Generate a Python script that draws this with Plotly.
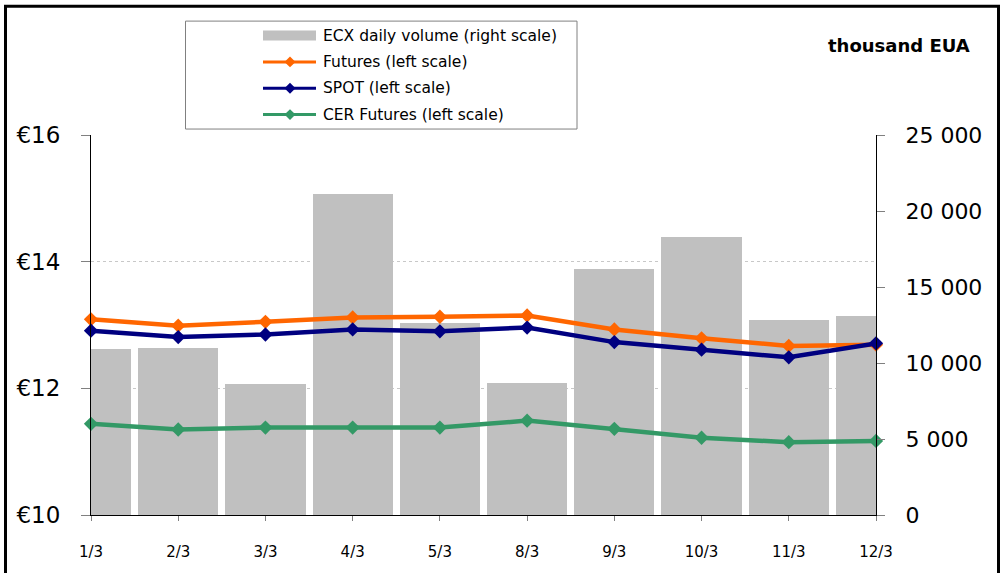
import plotly.graph_objects as go

# ---- data -------------------------------------------------------------
dates = ["1/3", "2/3", "3/3", "4/3", "5/3", "8/3", "9/3", "10/3", "11/3", "12/3"]
ecx_volume = [10900, 11000, 8600, 21100, 12600, 8700, 16200, 18300, 12800, 13100]
futures = [13.09, 12.99, 13.05, 13.12, 13.13, 13.15, 12.93, 12.79, 12.67, 12.69]
spot = [12.91, 12.81, 12.85, 12.93, 12.90, 12.96, 12.73, 12.61, 12.49, 12.71]
cer_futures = [11.44, 11.35, 11.38, 11.38, 11.38, 11.49, 11.36, 11.22, 11.15, 11.17]

names = ["ECX daily volume (right scale)", "Futures (left scale)",
         "SPOT (left scale)", "CER Futures (left scale)"]
unit_label = "thousand EUA"

# ---- styling ----------------------------------------------------------
W, H = 1002, 573
ML, MR, MT, MB = 91, 126, 135, 56
PW, PH = W - ML - MR, H - MT - MB
FONT = "DejaVu Sans"
BAR_COLOR = "#C0C0C0"
LINE_COLORS = ["#FF6600", "#000080", "#339966"]


def px_x(p):
    return (p - ML) / PW


def px_y(p):
    return (H - MB - p) / PH


fig = go.Figure()

# volume bars on the right-hand axis (base subplot, drawn underneath)
fig.add_trace(go.Bar(
    x=dates, y=ecx_volume, name=names[0], marker_color=BAR_COLOR,
    marker_line_width=0, width=0.92, yaxis="y", showlegend=False,
))

# price lines on the left-hand axis (overlay subplot, drawn on top)
for series, name, color in zip([futures, spot, cer_futures], names[1:], LINE_COLORS):
    fig.add_trace(go.Scatter(
        x=dates, y=series, name=name, yaxis="y2", mode="lines+markers",
        line=dict(color=color, width=4.5),
        marker=dict(symbol="diamond", size=11, color=color),
        cliponaxis=False, showlegend=False,
    ))

shapes = []
annotations = []

# outer frame
shapes.append(dict(type="rect", xref="paper", yref="paper",
                   x0=px_x(5.5), x1=px_x(998.5), y0=px_y(585), y1=px_y(5.5),
                   line=dict(color="black", width=3), layer="below"))

# legend box
shapes.append(dict(type="rect", xref="paper", yref="paper",
                   x0=px_x(185.5), x1=px_x(577), y0=px_y(129), y1=px_y(20.5),
                   line=dict(color="#808080", width=1), fillcolor="white",
                   layer="above"))
row_y = [35, 61.5, 88, 114.5]
sx0, sx1, smid = 263, 316, 290
shapes.append(dict(type="rect", xref="paper", yref="paper",
                   x0=px_x(sx0), x1=px_x(sx1), y0=px_y(row_y[0] + 5),
                   y1=px_y(row_y[0] - 5), fillcolor=BAR_COLOR,
                   line=dict(width=0), layer="above"))
for ry, color in zip(row_y[1:], LINE_COLORS):
    shapes.append(dict(type="line", xref="paper", yref="paper",
                       x0=px_x(sx0), x1=px_x(sx1), y0=px_y(ry), y1=px_y(ry),
                       line=dict(color=color, width=3), layer="above"))
    d = 5.5
    path = (f"M {px_x(smid - d)},{px_y(ry)} L {px_x(smid)},{px_y(ry - d)} "
            f"L {px_x(smid + d)},{px_y(ry)} L {px_x(smid)},{px_y(ry + d)} Z")
    shapes.append(dict(type="path", xref="paper", yref="paper", path=path,
                       fillcolor=color, line=dict(width=0), layer="above"))
for ry, name in zip(row_y, names):
    annotations.append(dict(xref="paper", yref="paper", x=px_x(321), y=px_y(ry),
                            text=name, showarrow=False, xanchor="left",
                            yanchor="middle",
                            font=dict(family=FONT, size=15.5, color="black")))

annotations.append(dict(xref="paper", yref="paper", x=px_x(972), y=px_y(45),
                        text=f"<b>{unit_label}</b>", showarrow=False,
                        xanchor="right", yanchor="middle",
                        font=dict(family=FONT, size=18, color="black")))

fig.update_layout(
    width=W, height=H,
    margin=dict(l=ML, r=MR, t=MT, b=MB, pad=0),
    paper_bgcolor="white", plot_bgcolor="white",
    separators=". ",
    bargap=0,
    font=dict(family=FONT, color="black"),
    xaxis=dict(
        type="category", range=[0, 9], showline=True, linecolor="black",
        linewidth=1, ticks="outside", ticklen=5, tickcolor="#808080",
        showgrid=False, tickfont=dict(size=15), ticklabelstandoff=18,
    ),
    yaxis=dict(
        side="right", range=[0, 25000], dtick=5000, tickformat=",d",
        showline=True, linecolor="black", linewidth=1, ticks="outside",
        ticklen=8, tickcolor="#808080", showgrid=False, zeroline=False,
        tickfont=dict(size=22), ticklabelstandoff=16,
    ),
    yaxis2=dict(
        overlaying="y", side="left", range=[10, 16], dtick=2, tickprefix="€",
        showline=True, linecolor="black", linewidth=1, ticks="outside",
        ticklen=9, tickcolor="#808080", showgrid=True, gridcolor="#C8C8C8",
        griddash="dot", gridwidth=1, zeroline=False,
        tickfont=dict(size=23), ticklabelstandoff=16,
    ),
    shapes=shapes,
    annotations=annotations,
)

fig.write_html("out.html")
